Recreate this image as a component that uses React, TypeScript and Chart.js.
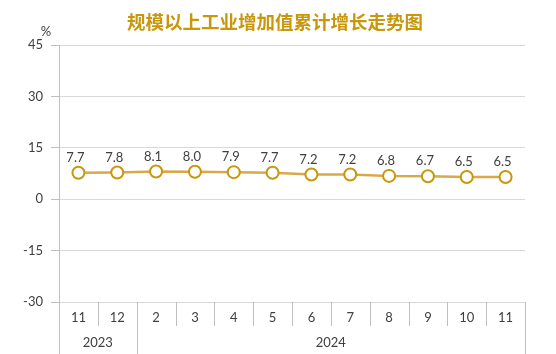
import React, { useEffect, useRef } from "react";
import { Chart, registerables } from "chart.js";

Chart.register(...registerables);

const months = ["11", "12", "2", "3", "4", "5", "6", "7", "8", "9", "10", "11"];
const years = ["2023", "2024"];
const yearSpans = [2, 10];
const growth = [7.7, 7.8, 8.1, 8.0, 7.9, 7.7, 7.2, 7.2, 6.8, 6.7, 6.5, 6.5];
const titleText = "规模以上工业增加值累计增长走势图";
const unitText = "%";

const LATIN = "Lato, 'Open Sans', 'Liberation Sans', sans-serif";
const CJK = "'Noto Sans CJK SC', sans-serif";
const AXIS_GRAY = "#BFBFBF";
const TEXT = "#404040";

export default function App() {
  const ref = useRef<HTMLCanvasElement | null>(null);

  useEffect(() => {
    const canvas = ref.current;
    if (!canvas) return;

    const decor = {
      id: "decor",
      afterDatasetsDraw(chart: any) {
        const ctx = chart.ctx;
        const meta = chart.getDatasetMeta(0);
        ctx.save();
        ctx.font = `13px ${LATIN}`;
        ctx.fillStyle = TEXT;
        ctx.textAlign = "center";
        ctx.textBaseline = "middle";
        meta.data.forEach((pt: any, i: number) => {
          ctx.fillText(growth[i].toFixed(1), pt.x - 3, pt.y - 15);
        });
        ctx.restore();
      },
      afterDraw(chart: any) {
        const ctx = chart.ctx;
        const area = chart.chartArea;
        const n = months.length;
        const w = (area.right - area.left) / n;
        ctx.save();
        // title
        ctx.font = `bold 18.5px ${CJK}`;
        ctx.fillStyle = "#C9970C";
        ctx.textAlign = "center";
        ctx.textBaseline = "middle";
        ctx.fillText(titleText, 275, 22);
        // unit
        ctx.font = `13px ${LATIN}`;
        ctx.fillStyle = TEXT;
        ctx.fillText(unitText, 46, 32);
        // category axis separators
        const yearBounds = new Set<number>();
        let acc = 0;
        yearBounds.add(0);
        yearSpans.forEach((s) => {
          acc += s;
          yearBounds.add(acc);
        });
        ctx.strokeStyle = AXIS_GRAY;
        ctx.lineWidth = 1;
        for (let i = 0; i <= n; i++) {
          const x = Math.round(area.left + i * w) + 0.5;
          ctx.beginPath();
          ctx.moveTo(x, area.bottom);
          ctx.lineTo(x, yearBounds.has(i) ? chart.height : area.bottom + 24);
          ctx.stroke();
        }
        // month labels
        ctx.font = `13px ${LATIN}`;
        ctx.fillStyle = TEXT;
        months.forEach((m, i) => {
          ctx.fillText(m, area.left + (i + 0.5) * w, area.bottom + 16);
        });
        // year labels
        let start = 0;
        years.forEach((yv, j) => {
          const span = yearSpans[j];
          ctx.fillText(yv, area.left + (start + span / 2) * w, area.bottom + 41);
          start += span;
        });
        ctx.restore();
      },
    };

    const chart = new Chart(canvas, {
      type: "line",
      data: {
        labels: months.map((m, i) => `${i}-${m}`),
        datasets: [
          {
            data: growth,
            borderColor: "#D8A84C",
            borderWidth: 2.5,
            pointRadius: 6,
            pointBorderWidth: 2,
            pointBorderColor: "#C9970C",
            pointBackgroundColor: "#FFFFFF",
            tension: 0,
          },
        ],
      },
      options: {
        animation: false,
        responsive: true,
        maintainAspectRatio: false,
        layout: { padding: { left: 0, right: 31, top: 45, bottom: 52 } },
        plugins: {
          legend: { display: false },
          title: { display: false },
          tooltip: { enabled: false },
        },
        scales: {
          x: {
            type: "category",
            display: false,
            offset: true,
          },
          y: {
            min: -30,
            max: 45,
            afterFit: (scale: any) => {
              scale.width = 59;
            },
            ticks: {
              stepSize: 15,
              color: TEXT,
              font: { size: 13, family: LATIN },
              padding: 8,
            },
            grid: {
              color: "#D9D9D9",
              tickColor: AXIS_GRAY,
              tickLength: 8,
            },
            border: { display: true, color: AXIS_GRAY },
          },
        },
      },
      plugins: [decor],
    });

    return () => chart.destroy();
  }, []);

  return (
    <div style={{ position: "fixed", left: 0, top: 0, width: 556, height: 354, background: "#fff" }}>
      <canvas ref={ref} />
    </div>
  );
}
